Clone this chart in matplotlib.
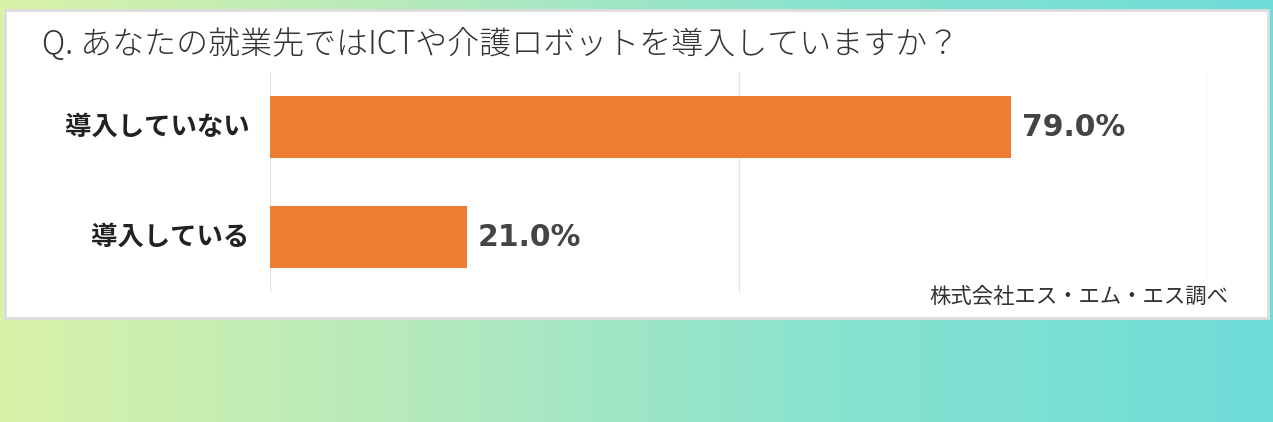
import numpy as np
import matplotlib
matplotlib.use("Agg")
from matplotlib import pyplot as plt
from matplotlib.colors import LinearSegmentedColormap
from matplotlib.patches import Rectangle

plt.rcParams['font.family'] = ['Noto Sans CJK JP', 'DejaVu Sans']

# datos
categorias = ["導入していない", "導入している"]
valores = [79.0, 21.0]
titulo = "Q. あなたの就業先ではICTや介護ロボットを導入していますか？"
fuente = "株式会社エス・エム・エス調べ"

W, H = 1273, 422
fig = plt.figure(figsize=(W / 100, H / 100), dpi=100)

# fondo degradado
bg = fig.add_axes([0, 0, 1, 1], zorder=-10)
cmap = LinearSegmentedColormap.from_list(
    "fondo", ["#d9f2a8", "#b4e9bd", "#86e2cf", "#6fdcd8"])
bg.imshow(np.linspace(0, 1, 512)[None, :], aspect="auto", cmap=cmap,
          extent=[0, 1, 0, 1])
bg.set_axis_off()

# panel blanco
fig.patches.append(Rectangle((5 / W, 1 - 318 / H), 1263 / W, 308 / H,
                             transform=fig.transFigure, facecolor="white",
                             edgecolor="#dcdcdc", linewidth=2, zorder=-5))

fig.text(42 / W, 1 - 45 / H, titulo, fontsize=23, color="#333333",
         fontweight="light", va="center", ha="left")

ax = fig.add_axes([270 / W, 1 - 292 / H, 938 / W, 220 / H])
ax.patch.set_alpha(0)
y = np.arange(len(categorias))
barras = ax.barh(y, valores, height=0.57, color="#ec7d31", zorder=3)
ax.set_xlim(0, 100)
ax.set_ylim(1.5, -0.5)
ax.set_xticks([0, 50, 100])
ax.set_xticklabels([])
ax.grid(axis="x", color="#e3e3e3", linewidth=1, zorder=0)
ax.set_yticks(y)
ax.set_yticklabels(categorias, fontsize=19, fontweight="bold", color="#222222",
                   va="center")
ax.tick_params(length=0, axis="y", pad=15)
ax.tick_params(length=0, axis="x")
for s in ax.spines.values():
    s.set_visible(False)

ax.bar_label(barras, labels=["%.1f%%" % v for v in valores], padding=8,
             fontsize=21.5, fontweight="bold", color="#444444",
             family=["DejaVu Sans"])

fig.text(1228 / W, 1 - 297 / H, fuente, fontsize=15.4, color="#333333",
         ha="right", va="center")

fig.savefig("out.png", dpi=100)
